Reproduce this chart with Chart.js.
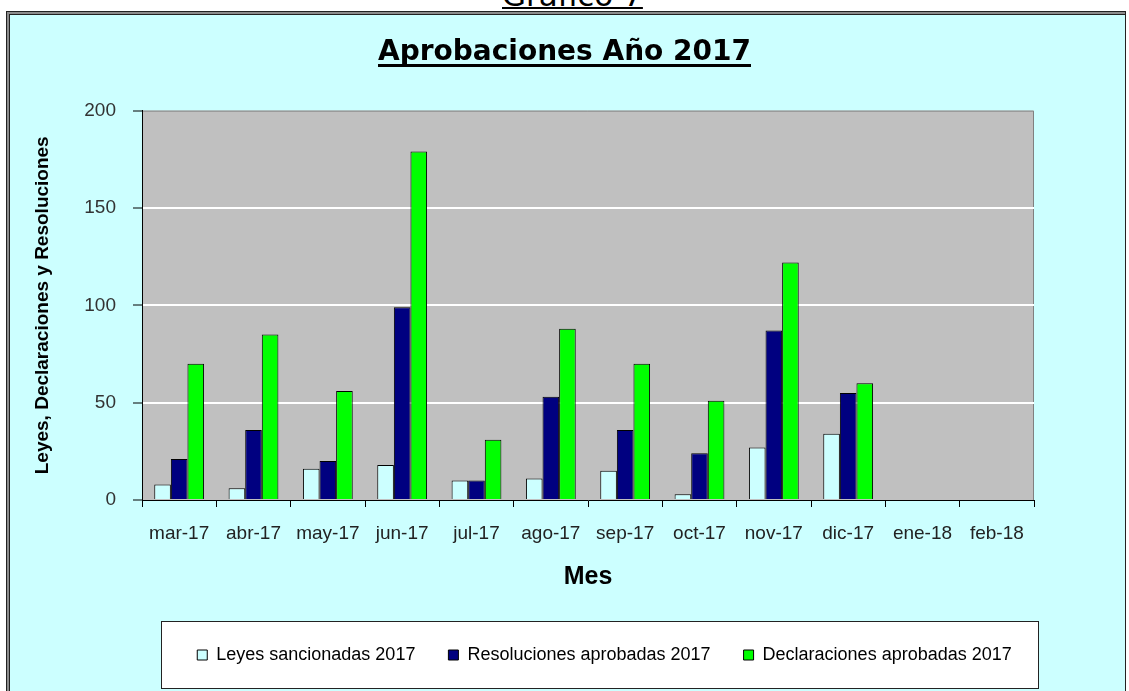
<!DOCTYPE html>
<html>
<head>
<meta charset="utf-8">
<script src="https://cdn.jsdelivr.net/npm/chart.js@4"></script>
<style>
  html, body { margin: 0; padding: 0; background: #fff; overflow: hidden; }
  #wrap { position: relative; width: 1129px; height: 691px; overflow: hidden; }
  #grafico { position: absolute; left: 502px; top: -21px; font: 31px "DejaVu Sans", sans-serif; line-height: 32px;
             text-decoration: underline; text-decoration-thickness: 2px; text-underline-offset: 1px; color: #000; white-space: nowrap; }
  #marco { position: absolute; left: 6px; top: 11px; width: 1116px; height: 700px; padding: 2px 0 0 2px;
           border-left: 1px solid #222; border-top: 1px solid #222; border-right: 1px solid #222; background: #8c8c8c; }
  #marco div { box-sizing: border-box; width: 100%; height: 100%; border-left: 1px solid #222; border-top: 1px solid #222; background: #ccffff; }
  canvas { position: absolute; left: 0; top: 0; }
</style>
</head>
<body>
<div id="wrap">
  <div id="grafico">Gráfico 7</div>
  <div id="marco"><div></div></div>
  <canvas id="chartAprobaciones" width="1129" height="691"></canvas>
</div>
<script>
const meses = ["mar-17", "abr-17", "may-17", "jun-17", "jul-17", "ago-17", "sep-17", "oct-17", "nov-17", "dic-17", "ene-18", "feb-18"];
const leyes = [8, 6, 16, 18, 10, 11, 15, 3, 27, 34, 0, 0];
const resoluciones = [21, 36, 20, 99, 10, 53, 36, 24, 87, 55, 0, 0];
const declaraciones = [70, 85, 56, 179, 31, 88, 70, 51, 122, 60, 0, 0];
const marcasY = [0, 50, 100, 150, 200];

const arial = "'Liberation Sans', Arial, sans-serif";
const tituloFont = { family: "'DejaVu Sans', Verdana, sans-serif", size: 28, weight: "bold" };

// fondo gris del area de trazado + recuadro de la leyenda
const fondo = {
  id: "fondo",
  afterLayout(chart) {
    // la leyenda del original no esta centrada en el grafico
    chart.legend.left += 80;
  },
  beforeDraw(chart) {
    const { ctx, chartArea: a } = chart;
    ctx.save();
    ctx.fillStyle = "#c0c0c0";
    ctx.fillRect(a.left, a.top, a.right - a.left, a.bottom - a.top);
    ctx.strokeStyle = "#808080";
    ctx.lineWidth = 1;
    ctx.beginPath();
    ctx.moveTo(a.left, a.top + 0.5);
    ctx.lineTo(a.right - 0.5, a.top + 0.5);
    ctx.lineTo(a.right - 0.5, a.bottom);
    ctx.stroke();

    const hb = chart.legend.legendHitBoxes;
    if (hb && hb.length) {
      const first = hb[0], last = hb[hb.length - 1];
      const mid = first.top + first.height / 2;
      const x0 = Math.round(first.left - 36) + 0.5;
      const x1 = Math.round(last.left + last.width + 26) + 0.5;
      const y0 = Math.round(mid - 34) + 0.5;
      const y1 = Math.round(mid + 33) + 0.5;
      ctx.fillStyle = "#fff";
      ctx.fillRect(x0, y0, x1 - x0, y1 - y0);
      ctx.strokeStyle = "#222";
      ctx.strokeRect(x0, y0, x1 - x0, y1 - y0);
    }
    ctx.restore();
  },
  afterDraw(chart) {
    // subrayado del titulo
    const t = chart.titleBlock;
    const opts = chart.options.plugins.title;
    const { ctx } = chart;
    ctx.save();
    ctx.font = `bold ${tituloFont.size}px ${tituloFont.family}`;
    const w = ctx.measureText(opts.text).width;
    const cx = (t.left + t.right) / 2;
    const mid = t.top + opts.padding.top + tituloFont.size * 1.2 / 2;
    ctx.fillStyle = "#000";
    ctx.fillRect(cx - w / 2, Math.round(mid + 11), w, 3);
    ctx.restore();
  }
};

new Chart(document.getElementById("chartAprobaciones"), {
  type: "bar",
  data: {
    labels: meses,
    datasets: [
      {
        label: "Leyes sancionadas 2017",
        data: leyes,
        backgroundColor: "#ccffff",
        borderColor: "#000",
        borderWidth: 1
      },
      {
        label: "Resoluciones aprobadas 2017",
        data: resoluciones,
        backgroundColor: "#000080",
        borderColor: "#000",
        borderWidth: 1
      },
      {
        label: "Declaraciones aprobadas 2017",
        data: declaraciones,
        backgroundColor: "#00ff00",
        borderColor: "#000",
        borderWidth: 1
      }
    ]
  },
  options: {
    responsive: false,
    animation: false,
    categoryPercentage: 0.67,
    barPercentage: 1.0,
    layout: { padding: { left: 0, right: 0, top: 0, bottom: 17 } },
    plugins: {
      title: {
        display: true,
        text: "Aprobaciones Año 2017",
        color: "#000",
        font: tituloFont,
        padding: { top: 36, bottom: 41 }
      },
      legend: {
        position: "bottom",
        labels: {
          color: "#000",
          font: { family: arial, size: 18 },
          boxWidth: 10,
          boxHeight: 10,
          padding: 33
        }
      },
      tooltip: { enabled: false }
    },
    scales: {
      x: {
        offset: true,
        grid: { display: true, offset: true, drawOnChartArea: false, tickLength: 7, tickColor: "#000" },
        border: { display: true, color: "#000", width: 1 },
        ticks: { color: "#222", font: { family: arial, size: 19 }, padding: 15, maxRotation: 0, autoSkip: false },
        title: {
          display: true,
          text: "Mes",
          color: "#000",
          font: { family: arial, size: 25, weight: "bold" },
          padding: { top: 4, bottom: 21 }
        },
        afterFit: s => { s.height = 113; }
      },
      y: {
        min: marcasY[0],
        max: marcasY[marcasY.length - 1],
        grid: {
          color: c => (c.tick && c.tick.value > marcasY[0] && c.tick.value < marcasY[marcasY.length - 1]) ? "#fff" : "rgba(0,0,0,0)",
          lineWidth: 2,
          tickColor: "#000",
          tickWidth: 1,
          tickLength: 9
        },
        border: { display: true, color: "#000", width: 1 },
        ticks: {
          stepSize: marcasY[1] - marcasY[0],
          color: "#333",
          font: { family: arial, size: 19 },
          padding: 17
        },
        title: {
          display: true,
          text: "Leyes, Declaraciones y Resoluciones",
          color: "#000",
          font: { family: arial, size: 19, weight: "bold" },
          padding: { top: 31, bottom: 4 }
        },
        afterFit: s => { s.width = 142; }
      },
      yDer: {
        position: "right",
        display: true,
        grid: { display: false },
        border: { display: false },
        ticks: { display: false },
        afterFit: s => { s.width = 95; }
      }
    }
  },
  plugins: [fondo]
});
</script>
</body>
</html>
